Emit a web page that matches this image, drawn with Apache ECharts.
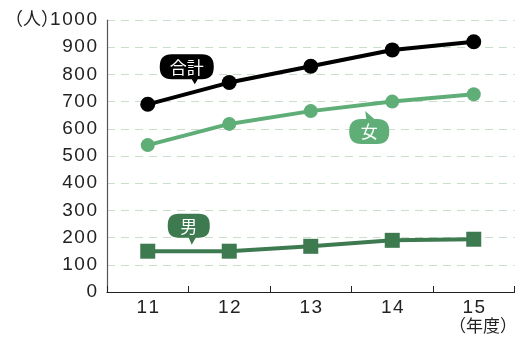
<!DOCTYPE html>
<html><head><meta charset="utf-8">
<script src="https://cdn.jsdelivr.net/npm/echarts@6/dist/echarts.min.js"></script>
<style>html,body{margin:0;padding:0;background:#fff}#c{width:519px;height:339px}</style>
</head><body><div id="c"></div>
<script>
const categories = ['11', '12', '13', '14', '15'];
const totalValues = [690, 770, 830, 890, 920];
const femaleValues = [540, 618, 665, 700, 727];
const maleValues = [150, 150, 168, 190, 194];
const yTicks = { min: 0, max: 1000, interval: 100 };

function bubbleDown(W, H, T, r, t1, tx, t2) {
  return 'path://M' + r + ',0 H' + (W - r) + ' Q' + W + ',0 ' + W + ',' + r + ' V' + (H - r) +
    ' Q' + W + ',' + H + ' ' + (W - r) + ',' + H + ' H' + t2 + ' L' + tx + ',' + (H + T) + ' L' + t1 + ',' + H +
    ' H' + r + ' Q0,' + H + ' 0,' + (H - r) + ' V' + r + ' Q0,0 ' + r + ',0 Z';
}
function bubbleUp(W, H, T, r, t1, tx, t2) {
  const b = T + H;
  return 'path://M' + r + ',' + T + ' H' + t1 + ' L' + tx + ',0 L' + t2 + ',' + T + ' H' + (W - r) +
    ' Q' + W + ',' + T + ' ' + W + ',' + (T + r) + ' V' + (b - r) +
    ' Q' + W + ',' + b + ' ' + (W - r) + ',' + b + ' H' + r + ' Q0,' + b + ' 0,' + (b - r) +
    ' V' + (T + r) + ' Q0,' + T + ' ' + r + ',' + T + ' Z';
}
const spaced = v => String(v).split('').join('\u200A');

const cjk = '"Noto Sans CJK JP", "Noto Sans CJK SC", sans-serif';
const chart = echarts.init(document.getElementById('c'));
chart.setOption({
  animation: false,
  grid: { left: 107, right: 4.5, top: 20, bottom: 47 },
  xAxis: {
    type: 'category', data: categories, boundaryGap: true,
    axisLine: { lineStyle: { color: '#222', width: 1.2 } },
    axisTick: { show: true, inside: true, length: 6, lineStyle: { color: '#222' } },
    axisLabel: { color: '#222', fontSize: 19, fontFamily: 'Liberation Sans', margin: 6, formatter: spaced }
  },
  yAxis: {
    type: 'value', min: yTicks.min, max: yTicks.max, interval: yTicks.interval,
    axisLine: { show: true, lineStyle: { color: '#555', width: 1.2 } },
    axisTick: { show: false },
    axisLabel: { color: '#222', fontSize: 19, fontFamily: 'Liberation Sans', margin: 10, formatter: spaced },
    splitLine: { show: true, lineStyle: { color: '#c9dfc9', type: [8, 6], width: 1 } }
  },
  graphic: [
    { type: 'text', left: 5, top: 9, style: { text: '（人）', font: '18px ' + cjk, fill: '#222' } },
    { type: 'text', right: 2, top: 317, style: { text: '（年度）', font: '17px ' + cjk, fill: '#222' } }
  ],
  series: [
    {
      name: '男', type: 'line', data: maleValues, z: 3,
      symbol: 'rect', symbolSize: 15,
      lineStyle: { color: '#3e7a50', width: 4 }, itemStyle: { color: '#3e7a50' },
      markPoint: {
        silent: true,
        data: [{ name: '男', coord: [0, maleValues[0]], symbolOffset: [41, -22] }],
        symbol: bubbleDown(42, 24, 7, 11, 21, 24, 28), symbolSize: [42, 31],
        itemStyle: { color: '#3e7a50' },
        label: { show: true, formatter: '{b}', color: '#fff', fontSize: 17, fontFamily: cjk, offset: [0, -3] }
      }
    },
    {
      name: '女', type: 'line', data: femaleValues, z: 4,
      symbol: 'circle', symbolSize: 14,
      lineStyle: { color: '#5fae78', width: 4 }, itemStyle: { color: '#5fae78' },
      markPoint: {
        silent: true,
        data: [{ name: '女', coord: [3, femaleValues[3]], symbolOffset: [-23, 26] }],
        symbol: bubbleUp(40, 25, 8, 12, 17, 16, 25), symbolSize: [40, 33],
        itemStyle: { color: '#5fae78' },
        label: { show: true, formatter: '{b}', color: '#fff', fontSize: 17, fontFamily: cjk, offset: [0, 4] }
      }
    },
    {
      name: '合計', type: 'line', data: totalValues, z: 5,
      symbol: 'circle', symbolSize: 15,
      lineStyle: { color: '#000', width: 4 }, itemStyle: { color: '#000' },
      markPoint: {
        silent: true,
        data: [{ name: '合計', coord: [0, totalValues[0]], symbolOffset: [39, -35] }],
        symbol: bubbleDown(54, 25, 5, 12, 32, 35, 38), symbolSize: [54, 30],
        itemStyle: { color: '#000' },
        label: { show: true, formatter: '{b}', color: '#fff', fontSize: 17, fontFamily: cjk, offset: [0, -2] }
      }
    }
  ]
});
</script></body></html>
